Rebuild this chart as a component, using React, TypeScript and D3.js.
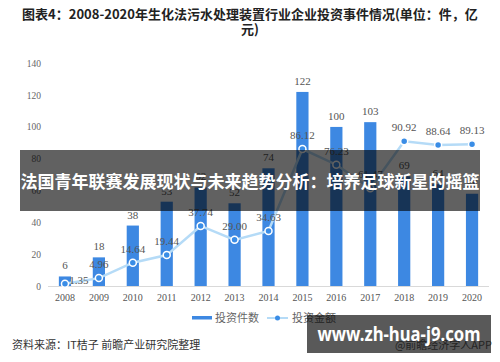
import { useEffect, useRef } from 'react';
import * as d3 from 'd3';

const years = ['2008', '2009', '2010', '2011', '2012', '2013', '2014', '2015', '2016', '2017', '2018', '2019', '2020'];
const dealCounts = [6, 18, 38, 53, 62, 52, 74, 122, 100, 103, 69, 64, 58];
const dealAmounts = [1.35, 4.96, 14.64, 19.44, 37.74, 29.0, 34.63, 86.12, 76.23, 61.47, 90.92, 88.64, 89.13];
const yTicks = [0, 20, 40, 60, 80, 100, 120, 140];

const W = 500,
    H = 362;

const App = () => {
    const ref = useRef<SVGSVGElement>(null);

    useEffect(() => {
        const svg = d3.select(ref.current).attr('width', W).attr('height', H);
        svg.selectAll('*').remove();

        const cjk = '"Noto Sans CJK SC", "Noto Sans", sans-serif';
        const serif = '"Liberation Serif", "DejaVu Serif", serif';
        const barColor = '#3d88e2';
        const lineColor = '#b5dbf7';

        svg.append('rect').attr('width', W).attr('height', H).attr('fill', '#fff');

        // Title
        const title = svg
            .append('text')
            .attr('text-anchor', 'middle')
            .attr('font-family', cjk)
            .attr('font-size', '13px')
            .attr('font-weight', 'bold')
            .attr('fill', '#222');
        title.append('tspan').attr('x', W / 2).attr('y', 19).text('图表4：2008-2020年生化法污水处理装置行业企业投资事件情况(单位：件，亿');
        title.append('tspan').attr('x', W / 2).attr('y', 34).text('元)');

        const x = d3.scaleBand().domain(years).range([48, 489]).paddingInner(0.64).paddingOuter(0.32);
        const xc = (d: string) => (x(d) as number) + x.bandwidth() / 2;
        const y = d3.scaleLinear().domain([0, 140]).range([286, 63.3]);

        // y tick labels
        svg.append('g')
            .selectAll('text')
            .data(yTicks)
            .enter()
            .append('text')
            .attr('x', 41)
            .attr('y', (d) => y(d) + 3.5)
            .attr('text-anchor', 'end')
            .attr('font-family', serif)
            .attr('font-size', '9.5px')
            .attr('fill', '#666')
            .text((d) => d);

        // baseline
        svg.append('line')
            .attr('x1', 48)
            .attr('x2', 489)
            .attr('y1', y(0) + 0.5)
            .attr('y2', y(0) + 0.5)
            .attr('stroke', '#d9d9d9');

        // x labels
        svg.append('g')
            .selectAll('text')
            .data(years)
            .enter()
            .append('text')
            .attr('x', (d) => xc(d))
            .attr('y', 301)
            .attr('text-anchor', 'middle')
            .attr('font-family', serif)
            .attr('font-size', '10px')
            .attr('fill', '#555')
            .text((d) => d);

        // bars
        svg.append('g')
            .selectAll('rect')
            .data(dealCounts)
            .enter()
            .append('rect')
            .attr('x', (d, i) => x(years[i]) as number)
            .attr('width', x.bandwidth())
            .attr('y', (d) => y(d))
            .attr('height', (d) => y(0) - y(d))
            .attr('fill', barColor);

        // line
        const line = d3
            .line<number>()
            .x((d, i) => xc(years[i]))
            .y((d) => y(d));
        svg.append('path')
            .datum(dealAmounts)
            .attr('d', line)
            .attr('fill', 'none')
            .attr('stroke', lineColor)
            .attr('stroke-width', 2.5);

        svg.append('g')
            .selectAll('circle')
            .data(dealAmounts)
            .enter()
            .append('circle')
            .attr('cx', (d, i) => xc(years[i]))
            .attr('cy', (d) => y(d))
            .attr('r', 3.5)
            .attr('fill', '#3a8de6')
            .attr('stroke', '#fff')
            .attr('stroke-width', 1.5);

        // bar labels
        svg.append('g')
            .selectAll('text')
            .data(dealCounts)
            .enter()
            .append('text')
            .attr('x', (d, i) => xc(years[i]))
            .attr('y', (d) => y(d) - 7)
            .attr('text-anchor', 'middle')
            .attr('font-family', serif)
            .attr('font-size', '11px')
            .attr('fill', '#555')
            .text((d) => d);

        // line labels (first one sits to the right of its point)
        svg.append('g')
            .selectAll('text')
            .data(dealAmounts)
            .enter()
            .append('text')
            .attr('x', (d, i) => xc(years[i]) + (i === 0 ? 14 : 0))
            .attr('y', (d, i) => (i === 0 ? y(d) : y(d) - 10))
            .attr('text-anchor', 'middle')
            .attr('font-family', serif)
            .attr('font-size', '11px')
            .attr('fill', '#555')
            .text((d) => d.toFixed(2));

        // legend
        const lg = svg.append('g').attr('font-family', cjk).attr('font-size', '11px').attr('fill', '#666');
        lg.append('rect').attr('x', 192).attr('y', 316).attr('width', 20).attr('height', 3.5).attr('fill', barColor);
        lg.append('text').attr('x', 215).attr('y', 322).text('投资件数');
        lg.append('line')
            .attr('x1', 267)
            .attr('x2', 288)
            .attr('y1', 318)
            .attr('y2', 318)
            .attr('stroke', lineColor)
            .attr('stroke-width', 2);
        lg.append('circle').attr('cx', 277.5).attr('cy', 318).attr('r', 2.5).attr('fill', '#3a8de6');
        lg.append('text').attr('x', 292).attr('y', 322).text('投资金额');

        // source
        svg.append('text')
            .attr('x', 12)
            .attr('y', 349)
            .attr('font-family', cjk)
            .attr('font-size', '11px')
            .attr('fill', '#333')
            .text('资料来源：IT桔子 前瞻产业研究院整理');
        svg.append('text')
            .attr('x', 492)
            .attr('y', 349)
            .attr('text-anchor', 'end')
            .attr('font-family', cjk)
            .attr('font-size', '11px')
            .attr('fill', '#666')
            .text('@前瞻经济学人APP');

        // overlay banner
        svg.append('rect')
            .attr('x', 20)
            .attr('y', 150)
            .attr('width', 460)
            .attr('height', 61)
            .attr('fill', 'rgba(0,0,0,0.62)');
        svg.append('text')
            .attr('x', W / 2)
            .attr('y', 188)
            .attr('text-anchor', 'middle')
            .attr('font-family', cjk)
            .attr('font-size', '17px')
            .attr('font-weight', 'bold')
            .attr('fill', '#fff')
            .text('法国青年联赛发展现状与未来趋势分析：培养足球新星的摇篮');

        // site watermark box
        svg.append('rect')
            .attr('x', 307)
            .attr('y', 315)
            .attr('width', 184)
            .attr('height', 38)
            .attr('fill', 'rgba(0,0,0,0.65)');
        svg.append('text')
            .attr('x', 399)
            .attr('y', 341)
            .attr('text-anchor', 'middle')
            .attr('font-family', '"Noto Sans", sans-serif')
            .attr('font-size', '19px')
            .attr('font-weight', 'bold')
            .attr('textLength', 163)
            .attr('lengthAdjust', 'spacingAndGlyphs')
            .attr('fill', '#fff')
            .text('www.zh-hua-j9.com');
    }, []);

    return <svg ref={ref} style={{ position: 'absolute', left: 0, top: 0 }}></svg>;
};

export default App;
